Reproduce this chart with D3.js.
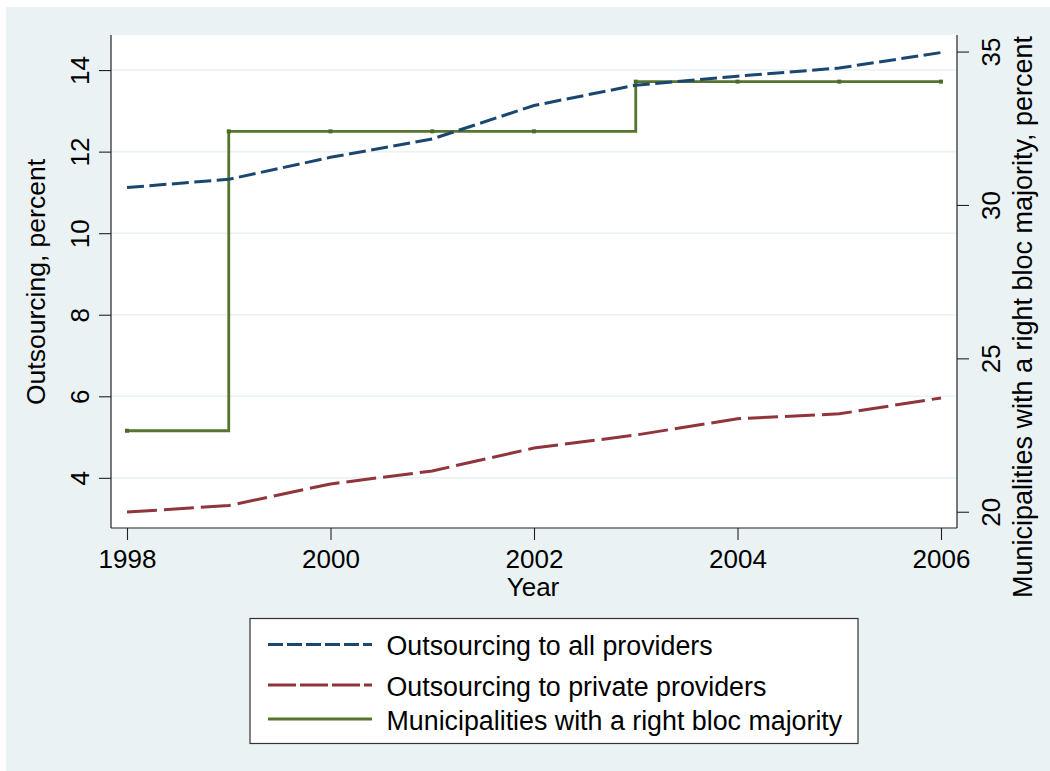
<!DOCTYPE html>
<html>
<head>
<meta charset="utf-8">
<script src="https://cdn.jsdelivr.net/npm/d3@7"></script>
<style>
    html, body { margin: 0; padding: 0; background: #ffffff; }
    svg { display: block; font-family: "Liberation Sans", Arial, sans-serif; }
</style>
</head>
<body>
<svg id="chart" width="1050" height="771"></svg>
<script>
    "use strict";

    // data
    var years = [1998, 1999, 2000, 2001, 2002, 2003, 2004, 2005, 2006];
    var allProviders = [11.12, 11.32, 11.86, 12.31, 13.13, 13.63, 13.85, 14.05, 14.43];
    var privateProviders = [3.16, 3.32, 3.85, 4.17, 4.73, 5.05, 5.45, 5.57, 5.96];
    var rightBloc = [22.64, 32.4, 32.4, 32.4, 32.4, 34.02, 34.02, 34.02, 34.02];

    var xTicks = [1998, 2000, 2002, 2004, 2006];
    var leftTicks = [4, 6, 8, 10, 12, 14];
    var rightTicks = [20, 25, 30, 35];

    var legendLabels = [
        "Outsourcing to all providers",
        "Outsourcing to private providers",
        "Municipalities with a right bloc majority"
    ];

    var plot = { left: 111, right: 957, top: 35, bottom: 528 };
    var bgColor = "#eaf2f3";
    var colors = ["#1a476f", "#90353b", "#55752f"];

    var svg = d3.select("#chart");

    svg.append("rect")
        .attr("x", 6).attr("y", 7)
        .attr("width", 1044).attr("height", 764)
        .attr("fill", bgColor);

    svg.append("rect")
        .attr("x", plot.left).attr("y", plot.top)
        .attr("width", plot.right - plot.left).attr("height", plot.bottom - plot.top)
        .attr("fill", "#ffffff");

    var x = d3.scaleLinear().domain([1998, 2006]).range([127, 941]);
    var yLeft = d3.scaleLinear().domain([2.77, 14.86]).range([plot.bottom, plot.top]);
    var yRight = d3.scaleLinear().domain([19.47, 35.54]).range([plot.bottom, plot.top]);

    // grid
    svg.append("g").selectAll("line").data(leftTicks).enter().append("line")
        .attr("x1", plot.left).attr("x2", plot.right)
        .attr("y1", function(d) { return yLeft(d); })
        .attr("y2", function(d) { return yLeft(d); })
        .attr("stroke", bgColor)
        .attr("stroke-width", 1.6);

    // series
    var lineLeft = d3.line()
        .x(function(d, i) { return x(years[i]); })
        .y(function(d) { return yLeft(d); });

    var stepRight = d3.line()
        .curve(d3.curveStepAfter)
        .x(function(d, i) { return x(years[i]); })
        .y(function(d) { return yRight(d); });

    svg.append("path")
        .attr("d", stepRight(rightBloc))
        .attr("fill", "none")
        .attr("stroke", colors[2])
        .attr("stroke-width", 2.8);

    svg.append("g").selectAll("rect").data(rightBloc).enter().append("rect")
        .attr("x", function(d, i) { return x(years[i]) - 2; })
        .attr("y", function(d) { return yRight(d) - 2; })
        .attr("width", 4).attr("height", 4)
        .attr("fill", "#4b6a28");

    svg.append("path")
        .attr("d", lineLeft(allProviders))
        .attr("fill", "none")
        .attr("stroke", colors[0])
        .attr("stroke-width", 3)
        .attr("stroke-dasharray", "17,5.5");

    svg.append("path")
        .attr("d", lineLeft(privateProviders))
        .attr("fill", "none")
        .attr("stroke", colors[1])
        .attr("stroke-width", 3)
        .attr("stroke-dasharray", "30,7");

    // axes
    var styleAxis = function(g) {
        g.select(".domain").attr("stroke", "#222").attr("stroke-width", 1.2);
        g.selectAll(".tick line").attr("stroke", "#222").attr("stroke-width", 1.1);
        g.selectAll("text").attr("fill", "#000").style("font-size", "26px")
            .style("font-family", "'Liberation Sans', Arial, sans-serif");
    };

    var xAxis = svg.append("g")
        .attr("transform", "translate(0," + plot.bottom + ")")
        .call(d3.axisBottom(x).tickValues(xTicks).tickSize(12).tickSizeOuter(0).tickFormat(d3.format("d")));
    xAxis.select(".domain").attr("d", "M" + plot.left + ",0H" + plot.right);
    styleAxis(xAxis);
    xAxis.selectAll("text").attr("y", 40).attr("dy", 0);

    var leftAxis = svg.append("g")
        .attr("transform", "translate(" + plot.left + ",0)")
        .call(d3.axisLeft(yLeft).tickValues(leftTicks).tickSize(12).tickSizeOuter(0));
    leftAxis.select(".domain").attr("d", "M0," + plot.top + "V" + plot.bottom);
    styleAxis(leftAxis);
    leftAxis.selectAll("text")
        .attr("x", 0).attr("y", -22).attr("dy", 0)
        .attr("text-anchor", "middle")
        .attr("transform", "rotate(-90)");

    var rightAxis = svg.append("g")
        .attr("transform", "translate(" + plot.right + ",0)")
        .call(d3.axisRight(yRight).tickValues(rightTicks).tickSize(12).tickSizeOuter(0));
    rightAxis.select(".domain").attr("d", "M0," + plot.top + "V" + plot.bottom);
    styleAxis(rightAxis);
    rightAxis.selectAll("text")
        .attr("x", 0).attr("y", 43).attr("dy", 0)
        .attr("text-anchor", "middle")
        .attr("transform", "rotate(-90)");

    // axis titles
    svg.append("text")
        .attr("x", 533).attr("y", 596)
        .attr("text-anchor", "middle")
        .style("font-size", "26px")
        .text("Year");

    svg.append("text")
        .attr("transform", "translate(45,282) rotate(-90)")
        .attr("text-anchor", "middle")
        .style("font-size", "26.5px")
        .text("Outsourcing, percent");

    svg.append("text")
        .attr("transform", "translate(1032,317) rotate(-90)")
        .attr("text-anchor", "middle")
        .style("font-size", "27px")
        .text("Municipalities with a right bloc majority, percent");

    // legend
    var legend = svg.append("g");
    legend.append("rect")
        .attr("x", 250).attr("y", 618.5)
        .attr("width", 608).attr("height", 125)
        .attr("fill", "#ffffff")
        .attr("stroke", "#333")
        .attr("stroke-width", 1.2);

    var legendY = [644.5, 685, 719];
    var legendDash = ["15,4", "28,4", null];

    var rows = legend.selectAll("g.row").data(legendLabels).enter().append("g")
        .attr("class", "row");
    rows.append("line")
        .attr("x1", 268).attr("x2", 372)
        .attr("y1", function(d, i) { return legendY[i]; })
        .attr("y2", function(d, i) { return legendY[i]; })
        .attr("stroke", function(d, i) { return colors[i]; })
        .attr("stroke-width", 3)
        .attr("stroke-dasharray", function(d, i) { return legendDash[i]; });
    rows.append("text")
        .attr("x", 386.5)
        .attr("y", function(d, i) { return legendY[i] + 10.5; })
        .style("font-size", "26.8px")
        .text(function(d) { return d; });
</script>
</body>
</html>
